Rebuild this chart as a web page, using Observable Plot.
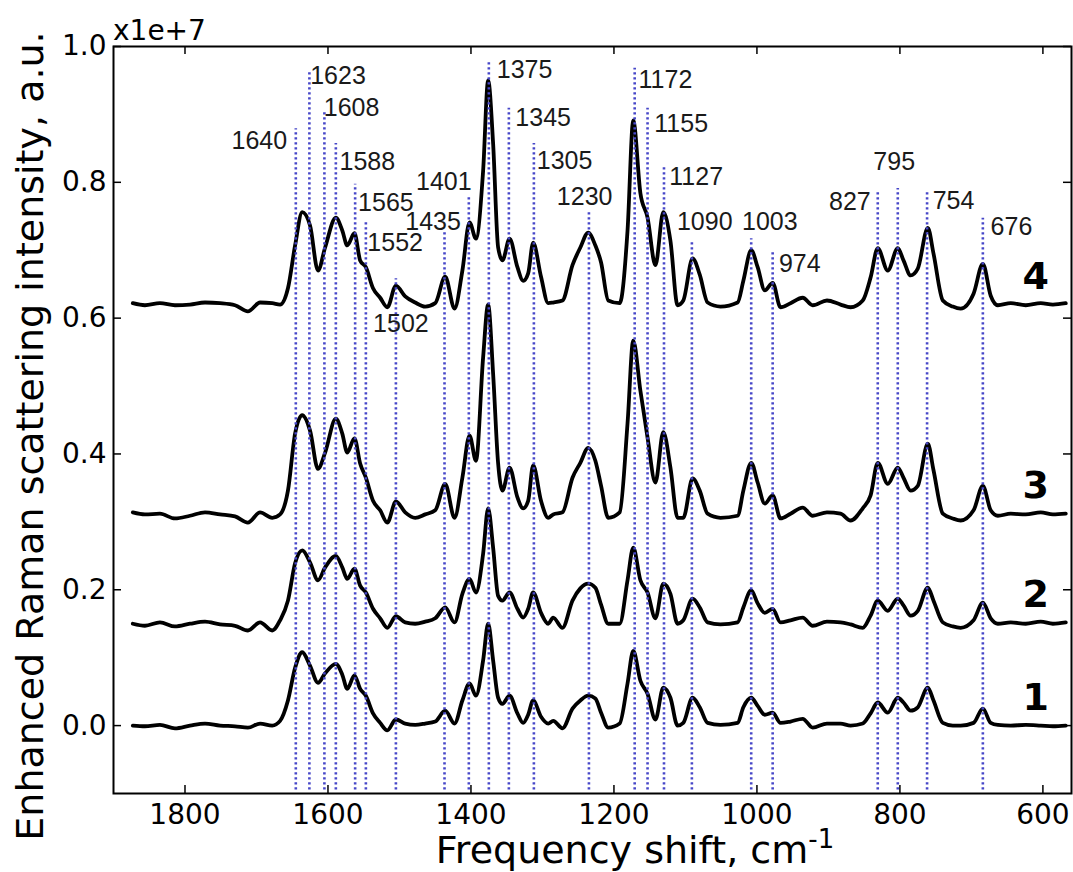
<!DOCTYPE html>
<html><head><meta charset="utf-8">
<script src="https://cdn.jsdelivr.net/npm/d3@7"></script>
<script src="https://cdn.jsdelivr.net/npm/@observablehq/plot@0.6"></script>
<style>body{margin:0;background:#fff}</style>
</head><body><div id="chart"></div>
<script>
// Frequency shift grid (cm^-1)
const shift = [1873,1856,1835,1814,1793,1772,1751,1730,1712,1695,
1678,1667,1656,1646,1636,1625,1614,1604,1589,1580,
1573,1563,1555,1547,1537,1527,1517,1505,1492,1478,
1464,1450,1436,1423,1412,1402,1393,1383,1376,1369,
1362,1356,1346,1335,1327,1320,1313,1302,1292,1285,
1272,1258,1247,1236,1226,1218,1208,1192,1181,1173,
1163,1153,1142,1131,1121,1111,1103,1090,1080,1069,
1051,1027,1019,1008,999,989,978,967,953,936,
922,902,883,869,852,841,831,817,803,795,
785,775,761,753,740,726,715,697,684,673,
663,645,624,603,586,568];

// Intensities (x1e7), offset spectra 1..4
const spectrum1 = [0.000,-0.001,0.001,-0.004,0.000,0.003,0.000,-0.001,-0.003,0.003,
0.000,0.007,0.037,0.085,0.108,0.088,0.063,0.077,0.091,0.075,
0.054,0.074,0.054,0.044,0.018,0.004,-0.007,0.009,0.003,0.001,
0.003,0.006,0.022,0.003,0.037,0.062,0.044,0.096,0.150,0.096,
0.041,0.032,0.044,0.018,0.004,0.016,0.037,0.013,0.003,0.007,
-0.004,0.025,0.037,0.044,0.040,0.019,-0.003,0.003,0.062,0.110,
0.066,0.047,0.009,0.056,0.041,0.000,0.004,0.041,0.027,0.004,
0.001,0.004,0.027,0.041,0.029,0.016,0.019,0.004,0.006,0.010,
-0.003,0.003,0.003,0.000,0.003,0.018,0.034,0.019,0.041,0.034,
0.022,0.027,0.056,0.037,0.004,0.000,0.000,0.004,0.025,0.004,
0.001,0.000,0.001,0.000,-0.001,0.000];

const spectrum2 = [0.150,0.147,0.152,0.146,0.150,0.153,0.149,0.147,0.140,0.152,
0.140,0.155,0.184,0.239,0.258,0.240,0.214,0.233,0.250,0.233,
0.216,0.231,0.206,0.196,0.172,0.158,0.144,0.161,0.152,0.150,
0.153,0.158,0.174,0.152,0.194,0.216,0.196,0.253,0.320,0.262,
0.191,0.184,0.196,0.172,0.159,0.172,0.196,0.166,0.150,0.159,
0.144,0.184,0.202,0.209,0.203,0.178,0.150,0.150,0.214,0.262,
0.214,0.196,0.158,0.209,0.194,0.150,0.155,0.187,0.174,0.152,
0.149,0.152,0.174,0.199,0.180,0.166,0.172,0.152,0.155,0.159,
0.147,0.153,0.152,0.149,0.144,0.162,0.184,0.169,0.187,0.177,
0.162,0.169,0.203,0.184,0.152,0.146,0.144,0.155,0.181,0.158,
0.150,0.152,0.150,0.153,0.150,0.152];

const spectrum3 = [0.314,0.311,0.312,0.305,0.309,0.314,0.311,0.308,0.299,0.314,
0.306,0.311,0.346,0.430,0.457,0.434,0.378,0.402,0.452,0.430,
0.402,0.423,0.386,0.365,0.331,0.317,0.299,0.330,0.314,0.306,
0.311,0.317,0.356,0.306,0.365,0.427,0.390,0.542,0.620,0.518,
0.386,0.346,0.380,0.336,0.320,0.331,0.383,0.331,0.306,0.311,
0.314,0.365,0.387,0.409,0.390,0.353,0.306,0.314,0.445,0.567,
0.493,0.424,0.358,0.432,0.380,0.306,0.306,0.364,0.346,0.312,
0.306,0.309,0.346,0.387,0.358,0.327,0.339,0.305,0.312,0.321,
0.309,0.314,0.312,0.302,0.320,0.339,0.387,0.356,0.380,0.365,
0.346,0.353,0.415,0.376,0.312,0.305,0.302,0.317,0.353,0.317,
0.309,0.312,0.311,0.314,0.311,0.312];

const spectrum4 = [0.622,0.619,0.622,0.619,0.620,0.623,0.622,0.619,0.610,0.623,
0.622,0.620,0.644,0.707,0.756,0.736,0.670,0.704,0.748,0.729,
0.707,0.725,0.685,0.675,0.644,0.630,0.616,0.648,0.632,0.623,
0.617,0.622,0.661,0.614,0.670,0.741,0.717,0.817,0.950,0.857,
0.704,0.685,0.717,0.675,0.655,0.666,0.711,0.661,0.622,0.623,
0.626,0.678,0.704,0.726,0.707,0.682,0.626,0.622,0.729,0.891,
0.784,0.748,0.678,0.756,0.714,0.619,0.626,0.688,0.664,0.623,
0.617,0.623,0.655,0.700,0.675,0.641,0.652,0.616,0.622,0.630,
0.619,0.626,0.620,0.616,0.626,0.660,0.703,0.670,0.703,0.685,
0.663,0.673,0.733,0.695,0.626,0.617,0.614,0.636,0.680,0.633,
0.619,0.622,0.619,0.622,0.620,0.622];

const spectrumNames = ["1","2","3","4"];
const spectrumLabelX = 610;
const spectrumLabelY = [0.041,0.192,0.353,0.661];

// Peak annotations
const peakLabels  = [1640,1623,1608,1588,1565,1552,1502,1435,1401,1375,1345,1305,1230,1172,1155,1127,1090,1003,974,827,795,754,676];
const peakShift   = [1645,1626,1605,1589,1562,1547,1505,1437,1403,1375,1347,1312,1235,1171,1153,1130,1091,1008,978,831,803,762,684];
const peakLineTop = [0.879,0.963,0.903,0.857,0.797,0.741,0.658,0.729,0.781,0.978,0.909,0.857,0.756,0.968,0.909,0.825,0.711,0.717,0.700,0.785,0.791,0.788,0.747];
const peakLabelX  = [1696,1586,1567,1545,1519,1506,1498,1453,1438,1325,1299,1269,1241,1128,1106,1085,1073,982,940,870,808,725,644];
const peakLabelY  = [0.861,0.956,0.909,0.830,0.770,0.711,0.592,0.741,0.800,0.965,0.895,0.832,0.778,0.950,0.886,0.808,0.741,0.741,0.680,0.771,0.830,0.773,0.734];
const peakLineBottom = -0.095;

const xTicks = [1800,1600,1400,1200,1000,800,600];
const yTicks = [0,0.2,0.4,0.6,0.8,1.0];

const series = [spectrum1, spectrum2, spectrum3, spectrum4];
const table = series.flatMap((vals, i) => vals.map((v, j) => ({shift: shift[j], intensity: v, spectrum: spectrumNames[i]})));
const peaks = peakLabels.map((label, i) => ({label: String(label), x: peakShift[i], top: peakLineTop[i], lx: peakLabelX[i], ly: peakLabelY[i]}));
const spectra = spectrumNames.map((name, i) => ({name, x: spectrumLabelX, y: spectrumLabelY[i]}));

const W = 1073, H = 872, mL = 113, mR = 2, mT = 46, mB = 79;
const plotW = W - mL - mR, plotH = H - mT - mB;
const tickLen = 8;

const svg = Plot.plot({
  width: W, height: H, marginLeft: mL, marginRight: mR, marginTop: mT, marginBottom: mB,
  style: {fontFamily: "DejaVu Sans", fontSize: "28px", background: "white", color: "black"},
  x: {domain: [1900, 560], axis: null},
  y: {domain: [-0.1, 1.0], axis: null},
  marks: [
    Plot.line(table, {x: "shift", y: "intensity", z: "spectrum", stroke: "black", strokeWidth: 3.8, curve: "monotone-x", strokeLinejoin: "round"}),
    Plot.ruleX(peaks, {x: "x", y1: () => peakLineBottom, y2: "top", stroke: "#4646c8", strokeWidth: 2.6, strokeDasharray: "2.4,2.6"}),
    Plot.text(peaks, {x: "lx", y: "ly", text: "label", fontFamily: "Liberation Sans", fontSize: 25, fill: "#1a1a1a"}),
    Plot.text(spectra, {x: "x", y: "y", text: "name", fontFamily: "DejaVu Sans", fontWeight: "bold", fontSize: 38}),
    Plot.frame({stroke: "black", strokeWidth: 2}),
    Plot.tickX(xTicks, {x: d => d, insetTop: plotH - tickLen, strokeWidth: 1.5}),
    Plot.tickX(xTicks, {x: d => d, insetBottom: plotH - tickLen, strokeWidth: 1.5}),
    Plot.tickY(yTicks, {y: d => d, insetRight: plotW - tickLen, strokeWidth: 1.5}),
    Plot.tickY(yTicks, {y: d => d, insetLeft: plotW - tickLen, strokeWidth: 1.5}),
    Plot.axisX({ticks: xTicks, tickSize: 0, tickPadding: 11, fontSize: 28, tickFormat: d => String(d), label: null}),
    Plot.axisY({ticks: yTicks, tickSize: 0, tickPadding: 7, fontSize: 28, tickFormat: d3.format(".1f"), label: null})
  ]
});

const s = d3.select(svg);
s.append("text").attr("x", 113).attr("y", 40).attr("text-anchor", "start")
  .attr("font-family", "DejaVu Sans").attr("font-size", 28).attr("fill", "black").text("x1e+7");
const xl = s.append("text").attr("x", 635).attr("y", 863).attr("text-anchor", "middle")
  .attr("font-family", "DejaVu Sans").attr("font-size", 38).attr("fill", "black");
xl.append("tspan").text("Frequency shift, cm");
xl.append("tspan").attr("dy", -15).attr("font-size", 26).text("-1");
s.append("text").attr("transform", "translate(43,436) rotate(-90)").attr("text-anchor", "middle")
  .attr("font-family", "DejaVu Sans").attr("font-size", 38).attr("fill", "black")
  .text("Enhanced Raman scattering intensity, a.u.");

document.getElementById("chart").append(svg);
</script>
</body></html>
